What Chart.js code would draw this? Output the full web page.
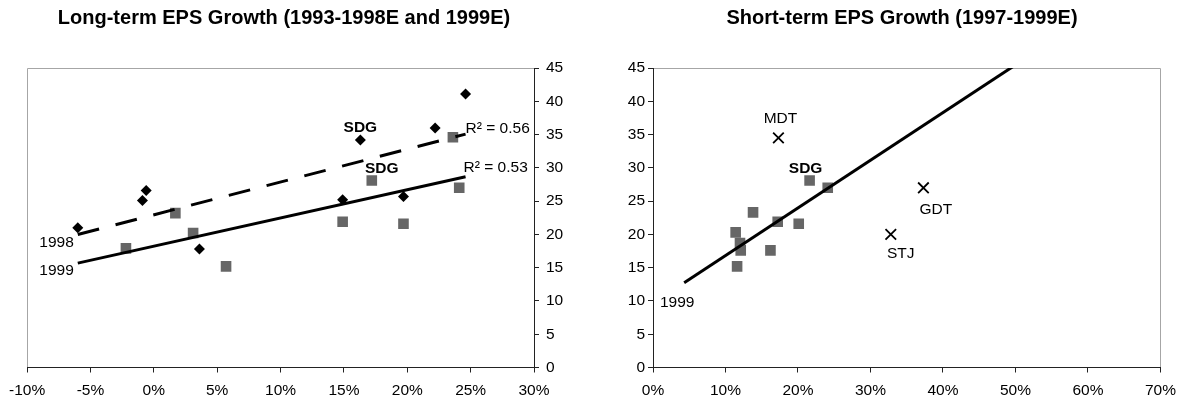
<!DOCTYPE html>
<html>
<head>
<meta charset="utf-8">
<script src="https://cdn.jsdelivr.net/npm/chart.js@4.4.1/dist/chart.umd.min.js"></script>
<style>
  html, body { margin: 0; padding: 0; background: #fff; }
  #wrap { position: relative; width: 1185px; height: 402px; overflow: hidden; }
  #wrap canvas { position: absolute; top: 0; }
  #lt { left: 0; }
  #st { left: 592px; }
</style>
</head>
<body>
<div id="wrap">
  <canvas id="lt" width="592" height="402"></canvas>
  <canvas id="st" width="593" height="402"></canvas>
</div>
<script>
// ---- Long-term EPS growth (x, %) against P/E (y) ----
const ltGrowth98 = [-6.0, -0.9, -0.6, 3.6, 14.9, 16.3, 19.7, 22.2, 24.6];
const ltPe98     = [21.0, 25.1, 26.6, 17.8, 25.2, 34.2, 25.7, 36.0, 41.1];
const ltGrowth99 = [-2.2, 1.7, 3.1, 5.7, 14.9, 17.2, 19.7, 23.6, 24.1];
const ltPe99     = [17.9, 23.2, 20.2, 15.2, 21.9, 28.1, 21.6, 34.6, 27.0];
const ltXTicks   = [-10, -5, 0, 5, 10, 15, 20, 25, 30];

// ---- Short-term EPS growth 1997-1999E (x, %) against 1999E P/E (y) ----
const stGrowth   = [11.4, 12.0, 12.1, 11.6, 13.8, 16.2, 17.2, 20.1, 21.6, 24.1];
const stPe99     = [20.3, 18.7, 17.6, 15.2, 23.3, 17.6, 21.9, 21.6, 28.1, 27.0];
const stOutNames  = ['MDT', 'GDT', 'STJ'];
const stOutGrowth = [17.3, 37.3, 32.8];
const stOutPe     = [34.5, 27.0, 20.0];
const stTrendSpan = [4.3, 55];
const stXTicks    = [0, 10, 20, 30, 40, 50, 60, 70];

const peTicks = [0, 5, 10, 15, 20, 25, 30, 35, 40, 45];

const FONT = '"Liberation Sans", Arial, Helvetica, sans-serif';
Chart.defaults.font.family = FONT;
Chart.defaults.color = '#000';

// least-squares line with coefficient of determination
function linFit(xs, ys) {
  const n = xs.length;
  const mx = xs.reduce((a, b) => a + b, 0) / n;
  const my = ys.reduce((a, b) => a + b, 0) / n;
  let sxy = 0, sxx = 0, syy = 0;
  for (let i = 0; i < n; i++) {
    const dx = xs[i] - mx, dy = ys[i] - my;
    sxy += dx * dy; sxx += dx * dx; syy += dy * dy;
  }
  const slope = sxy / sxx;
  const icpt = my - slope * mx;
  return { at: x => icpt + slope * x, r2: (sxy * sxy) / (sxx * syy) };
}

const pts = (xs, ys) => xs.map((x, i) => ({ x, y: ys[i] }));

// thin grey frame on the sides of the plot area that carry no axis
function framePlugin(sides) {
  return {
    id: 'frame',
    beforeDraw(chart) {
      const { ctx, chartArea: a } = chart;
      const l = Math.round(a.left) + 0.5, r = Math.round(a.right) + 0.5;
      const t = Math.round(a.top) + 0.5, b = Math.round(a.bottom) + 0.5;
      ctx.save();
      ctx.strokeStyle = '#a6a6a6';
      ctx.lineWidth = 1;
      ctx.beginPath();
      if (sides.includes('top'))   { ctx.moveTo(l, t); ctx.lineTo(r, t); }
      if (sides.includes('left'))  { ctx.moveTo(l, t); ctx.lineTo(l, b); }
      if (sides.includes('right')) { ctx.moveTo(r, t); ctx.lineTo(r, b); }
      ctx.stroke();
      ctx.restore();
    }
  };
}

// chart heading, centred on a given x
function headingPlugin(text, cx) {
  return {
    id: 'heading',
    afterDraw(chart) {
      const ctx = chart.ctx;
      ctx.save();
      ctx.font = 'bold 20px ' + FONT;
      ctx.fillStyle = '#000';
      ctx.textAlign = 'center';
      ctx.textBaseline = 'middle';
      ctx.fillText(text, cx, 18);
      ctx.restore();
    }
  };
}

// text labels anchored to data values, shifted by a few pixels
function labelPlugin(items) {
  return {
    id: 'pointLabels',
    afterDatasetsDraw(chart) {
      const { ctx, scales: { x, y } } = chart;
      ctx.save();
      ctx.fillStyle = '#000';
      ctx.textBaseline = 'middle';
      for (const it of items) {
        ctx.font = (it.bold ? 'bold ' : '') + '15.5px ' + FONT;
        ctx.textAlign = it.align || 'center';
        ctx.fillText(it.text, x.getPixelForValue(it.x) + it.dx, y.getPixelForValue(it.y) + it.dy);
      }
      ctx.restore();
    }
  };
}

const tickFont = { size: 15.5 };
const axisGrid = { drawOnChartArea: false, drawTicks: true, tickLength: 5, color: '#222' };
const axisBorder = { display: true, color: '#222', width: 1 };

function xAxis(min, max, list) {
  return {
    type: 'linear', min, max,
    afterBuildTicks: s => { s.ticks = list.map(v => ({ value: v })); },
    ticks: { callback: v => v + '%', font: tickFont, color: '#000', padding: 9, maxRotation: 0, autoSkip: false },
    grid: axisGrid, border: axisBorder,
    afterFit: s => { s.height = 34.5; }
  };
}
function yAxis(position, width, pad) {
  return {
    type: 'linear', position, min: 0, max: 45,
    afterBuildTicks: s => { s.ticks = peTicks.map(v => ({ value: v })); },
    ticks: { font: tickFont, color: '#000', padding: pad, autoSkip: false },
    grid: axisGrid, border: axisBorder,
    afterFit: s => { s.width = width; }
  };
}

// ---------- left chart ----------
const allLtX = ltGrowth98.concat(ltGrowth99);
const ltX0 = Math.min(...allLtX), ltX1 = Math.max(...allLtX);
const fit98 = linFit(ltGrowth98, ltPe98);
const fit99 = linFit(ltGrowth99, ltPe99);
const sdg = 5; // index of SDG in the long-term series

new Chart(document.getElementById('lt'), {
  type: 'scatter',
  data: {
    datasets: [
      { label: '1998 trend', showLine: true, data: [{ x: ltX0, y: fit98.at(ltX0) }, { x: ltX1, y: fit98.at(ltX1) }],
        borderColor: '#000', borderWidth: 3, borderDash: [22, 17], borderCapStyle: 'butt', pointRadius: 0, order: 0 },
      { label: '1999 trend', showLine: true, data: [{ x: ltX0, y: fit99.at(ltX0) }, { x: ltX1, y: fit99.at(ltX1) }],
        borderColor: '#000', borderWidth: 3, borderCapStyle: 'butt', pointRadius: 0, order: 0 },
      { label: '1998', data: pts(ltGrowth98, ltPe98), pointStyle: 'rectRot', pointRadius: 5.5,
        backgroundColor: '#000', borderWidth: 0, order: 2 },
      { label: '1999', data: pts(ltGrowth99, ltPe99), pointStyle: 'rect', pointRadius: 7.5,
        backgroundColor: '#666666', borderWidth: 0, order: 1 }
    ]
  },
  options: {
    responsive: false, animation: false, events: [],
    layout: { padding: { left: 27, right: 18, top: 68, bottom: 0 } },
    plugins: { legend: { display: false }, tooltip: { enabled: false }, title: { display: false } },
    scales: { x: xAxis(-10, 30, ltXTicks), y: yAxis('right', 40, 7) }
  },
  plugins: [framePlugin(['top', 'left']),
    headingPlugin('Long-term EPS Growth (1993-1998E and 1999E)', 284),
    labelPlugin([
      { text: 'SDG', bold: true, x: ltGrowth98[sdg], y: ltPe98[sdg], dx: 0, dy: -12.5 },
      { text: 'SDG', bold: true, x: ltGrowth99[sdg], y: ltPe99[sdg], dx: 10, dy: -12 },
      { text: '1998', x: ltX0, y: fit98.at(ltX0), dx: -4, dy: 8, align: 'right' },
      { text: '1999', x: ltX0, y: fit99.at(ltX0), dx: -4, dy: 8, align: 'right' },
      { text: 'R\u00B2 = ' + fit98.r2.toFixed(2), x: ltX1, y: fit98.at(ltX1), dx: 0, dy: -5, align: 'left' },
      { text: 'R\u00B2 = ' + fit99.r2.toFixed(2), x: ltX1, y: fit99.at(ltX1), dx: -2, dy: -9, align: 'left' }
    ])]
});

// ---------- right chart ----------
const fitSt = linFit(stGrowth, stPe99);
const stSdg = 8; // index of SDG in the short-term series

new Chart(document.getElementById('st'), {
  type: 'scatter',
  data: {
    datasets: [
      { label: '1999 trend', showLine: true,
        data: stTrendSpan.map(x => ({ x, y: fitSt.at(x) })),
        borderColor: '#000', borderWidth: 3, borderCapStyle: 'butt', pointRadius: 0, clip: 0, order: 0 },
      { label: '1999', data: pts(stGrowth, stPe99), pointStyle: 'rect', pointRadius: 7.5,
        backgroundColor: '#666666', borderWidth: 0, order: 1 },
      { label: 'excluded', data: pts(stOutGrowth, stOutPe), pointStyle: 'crossRot', pointRadius: 7.5,
        borderColor: '#000', backgroundColor: '#000', borderWidth: 1.8, order: 1 }
    ]
  },
  options: {
    responsive: false, animation: false, events: [],
    layout: { padding: { left: 0, right: 23, top: 68, bottom: 0 } },
    plugins: { legend: { display: false }, tooltip: { enabled: false }, title: { display: false } },
    scales: { x: xAxis(0, 70, stXTicks), y: yAxis('left', 61, 3) }
  },
  plugins: [framePlugin(['top', 'right']),
    headingPlugin('Short-term EPS Growth (1997-1999E)', 310),
    labelPlugin([
      { text: stOutNames[0], x: stOutGrowth[0], y: stOutPe[0], dx: 2, dy: -19 },
      { text: stOutNames[1], x: stOutGrowth[1], y: stOutPe[1], dx: 12.5, dy: 21.5 },
      { text: stOutNames[2], x: stOutGrowth[2], y: stOutPe[2], dx: 10, dy: 19 },
      { text: 'SDG', bold: true, x: stGrowth[stSdg], y: stPe99[stSdg], dx: -4, dy: -11.5 },
      { text: '1999', x: stTrendSpan[0], y: fitSt.at(stTrendSpan[0]), dx: -7, dy: 20 }
    ])]
});
</script>
</body>
</html>
